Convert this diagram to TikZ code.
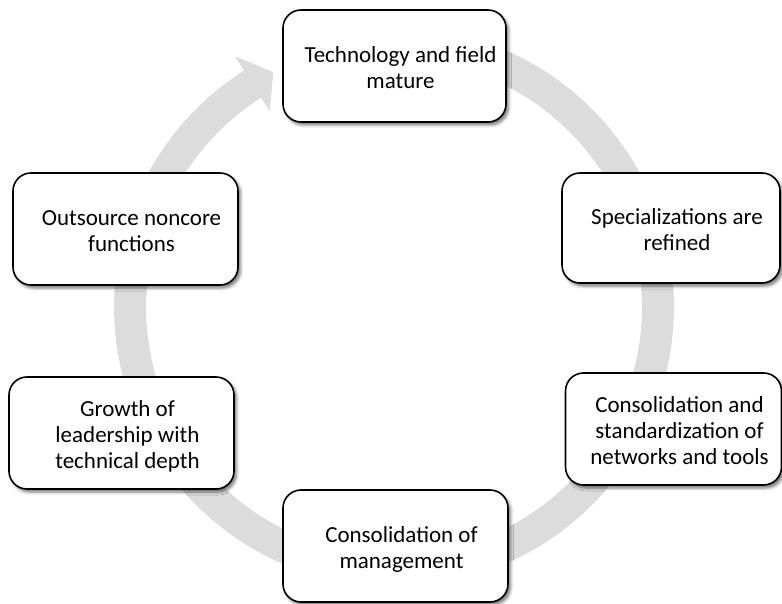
\documentclass[tikz,border=0pt]{standalone}
\usepackage{fontspec}
\setmainfont{Carlito}
\usetikzlibrary{shadows.blur,calc}
\definecolor{bandgray}{RGB}{220,220,220}
\newcommand\stagetext[1]{\hspace*{12pt}\raisebox{-4pt}[\height][\depth]{\begin{tabular}{@{}c@{}}#1\end{tabular}}}
\begin{document}
\begin{tikzpicture}[x=1pt,y=-1pt,
  stagebox/.style={draw=black, line width=1.6pt, fill=white, rounded corners=18pt,
    inner sep=0pt, font=\fontsize{23}{26}\selectfont,
    blur shadow={shadow xshift=2.5pt, shadow yshift=-3pt, shadow blur radius=3pt, shadow opacity=55}},
  band/.style={fill=bandgray, draw=none}
]
\useasboundingbox (0,0) rectangle (782,604);
% circular arrow band
\fill[band] plot[domain=-85:237.6,samples=150] ({394+280*cos(\x)},{307+280*sin(\x)})
  -- ({394+297*cos(237.6)},{307+297*sin(237.6)})
  -- ({394+264*cos(242.8)},{307+264*sin(242.8)})
  -- ({394+232*cos(237.6)},{307+232*sin(237.6)})
  -- plot[domain=237.6:-85,samples=150] ({394+248*cos(\x)},{307+248*sin(\x)}) -- cycle;
% stages
\node[stagebox, minimum width=223pt, minimum height=112pt] (n1) at (394.5,66) {\stagetext{Technology and field\\mature}};
\node[stagebox, minimum width=218pt, minimum height=110pt] (n2) at (671,228) {\stagetext{Specializations are\\refined}};
\node[stagebox, minimum width=216pt, minimum height=112pt] (n3) at (673.5,429) {\stagetext{Consolidation and\\standardization of\\networks and tools}};
\node[stagebox, minimum width=225pt, minimum height=112pt] (n4) at (395.5,546) {\stagetext{Consolidation of\\management}};
\node[stagebox, minimum width=225pt, minimum height=112pt] (n5) at (121.5,433) {\stagetext{Growth of\\leadership with\\technical depth}};
\node[stagebox, minimum width=225pt, minimum height=112pt] (n6) at (125.5,229) {\stagetext{Outsource noncore\\functions}};
\end{tikzpicture}
\end{document}
